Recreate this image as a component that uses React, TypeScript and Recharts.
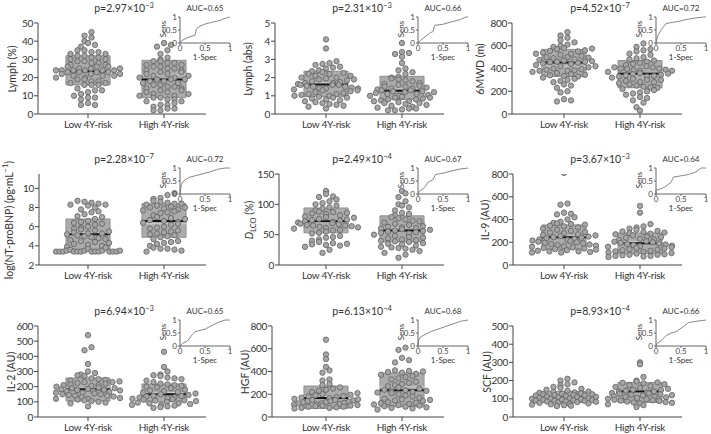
import React from 'react';
import { ComposedChart, LineChart, Line, XAxis, YAxis, Scatter, ReferenceArea, ReferenceLine } from 'recharts';

const FONT = 'Lato, "Noto Sans", sans-serif';

// ---------------- DATA ----------------
const groupLabels = ['Low 4Y-risk', 'High 4Y-risk'];

const lymphPctLow = [45, 43, 42, 40, 39, 38, 37, 35, 35, 34, 34, 33, 33, 32, 32, 31, 31, 30, 30, 29, 29, 28, 28, 27, 27, 26, 26, 26, 25, 25, 25, 24, 24, 24, 24, 24, 24, 23, 23, 23, 23, 22, 22, 22, 21, 21, 21, 20, 20, 19, 19, 18, 18, 17, 17, 16, 16, 16, 14, 13, 13, 12, 11, 10, 9, 9, 8, 6, 5, 5];
const lymphPctHigh = [39, 38, 37, 35, 33, 31, 30, 29, 29, 28, 28, 27, 27, 26, 26, 25, 25, 24, 24, 23, 23, 22, 22, 21, 21, 20, 20, 19, 19, 19, 18, 18, 17, 17, 16, 16, 15, 15, 14, 14, 13, 13, 12, 12, 11, 11, 10, 10, 9, 9, 8, 8, 7, 7, 6, 5, 5, 4, 3, 3, 2, 2];

const lymphAbsLow = [4.1, 3.6, 2.9, 2.8, 2.75, 2.7, 2.6, 2.55, 2.5, 2.4, 2.35, 2.3, 2.25, 2.2, 2.2, 2.1, 2.1, 2.0, 2.0, 1.95, 1.9, 1.9, 1.85, 1.8, 1.75, 1.7, 1.7, 1.65, 1.6, 1.6, 1.6, 1.55, 1.5, 1.5, 1.45, 1.4, 1.4, 1.4, 1.35, 1.3, 1.3, 1.25, 1.2, 1.15, 1.1, 1.1, 1.05, 1.0, 1.0, 0.95, 0.9, 0.9, 0.85, 0.8, 0.75, 0.7, 0.65, 0.6, 0.55, 0.5, 0.45, 0.4, 0.3];
const lymphAbsHigh = [3.9, 3.4, 3.35, 3.3, 3.15, 2.8, 2.5, 2.4, 2.3, 2.2, 2.05, 2.0, 1.95, 1.9, 1.85, 1.8, 1.7, 1.65, 1.6, 1.55, 1.5, 1.5, 1.45, 1.4, 1.4, 1.35, 1.3, 1.3, 1.25, 1.25, 1.2, 1.2, 1.15, 1.1, 1.1, 1.05, 1.0, 1.0, 0.95, 0.9, 0.9, 0.85, 0.8, 0.8, 0.75, 0.7, 0.7, 0.65, 0.6, 0.6, 0.55, 0.5, 0.45, 0.4, 0.35, 0.3, 0.3, 0.25, 0.2, 0.2];

const walkLow = [720, 690, 670, 650, 630, 610, 600, 590, 580, 575, 570, 560, 555, 550, 540, 530, 530, 520, 510, 500, 500, 495, 490, 480, 475, 470, 465, 460, 460, 455, 450, 445, 440, 430, 420, 420, 410, 400, 395, 390, 385, 380, 380, 370, 360, 350, 345, 340, 335, 330, 320, 310, 300, 290, 280, 260, 250, 230, 200, 190, 130, 120, 110];
const walkHigh = [620, 590, 570, 560, 550, 530, 520, 500, 490, 480, 470, 460, 450, 440, 430, 420, 410, 410, 400, 400, 395, 390, 385, 380, 380, 370, 360, 355, 350, 345, 340, 335, 330, 330, 320, 310, 300, 300, 290, 280, 280, 270, 260, 250, 240, 235, 230, 220, 210, 200, 190, 180, 170, 150, 140, 120, 100, 60, 30];

const bnpLow = [8.7, 8.6, 8.5, 8.4, 8.3, 8.3, 8.2, 8.0, 7.8, 7.6, 7.5, 7.3, 7.1, 7.0, 6.8, 6.6, 6.5, 6.4, 6.3, 6.2, 6.0, 5.9, 5.8, 5.7, 5.6, 5.5, 5.4, 5.3, 5.3, 5.2, 5.1, 5.0, 4.9, 4.8, 4.7, 4.6, 4.5, 4.4, 4.3, 4.2, 4.1, 4.0, 3.9, 3.8, 3.7, 3.6, 3.5, 3.5, 3.5, 3.5, 3.4, 3.4, 3.4, 3.4, 3.4, 3.4, 3.4, 3.4, 3.4, 3.4, 3.4, 3.4];
const bnpHigh = [9.5, 9.3, 9.0, 8.9, 8.7, 8.6, 8.5, 8.4, 8.4, 8.3, 8.2, 8.1, 8.0, 8.0, 7.9, 7.8, 7.7, 7.6, 7.5, 7.4, 7.2, 7.0, 6.9, 6.8, 6.7, 6.6, 6.5, 6.4, 6.3, 6.2, 6.0, 5.9, 5.8, 5.6, 5.5, 5.4, 5.3, 5.2, 5.1, 5.0, 4.9, 4.7, 4.5, 4.4, 4.3, 4.2, 4.0, 3.8, 3.7, 3.7, 3.6, 3.5, 3.4];

const dlcoLow = [122, 117, 113, 112, 108, 105, 102, 100, 98, 95, 93, 90, 88, 87, 86, 85, 84, 82, 80, 79, 78, 76, 75, 74, 73, 72, 71, 70, 69, 68, 67, 66, 65, 65, 64, 63, 62, 61, 60, 58, 57, 55, 53, 52, 48, 46, 45, 42, 40, 38, 36, 35, 34, 33, 32, 30, 25, 20];
const dlcoHigh = [122, 118, 112, 105, 100, 98, 95, 90, 86, 84, 82, 79, 77, 75, 73, 72, 70, 68, 66, 64, 63, 62, 61, 60, 59, 58, 57, 56, 55, 54, 53, 52, 50, 48, 46, 45, 44, 42, 41, 40, 39, 38, 36, 35, 34, 32, 30, 29, 28, 27, 25, 23, 20, 17, 12];

const il9Low = [810, 540, 530, 460, 450, 445, 420, 400, 380, 370, 365, 360, 355, 345, 340, 330, 320, 310, 300, 290, 285, 280, 270, 265, 260, 255, 250, 245, 240, 235, 230, 225, 220, 215, 210, 205, 200, 195, 190, 185, 180, 175, 170, 165, 160, 155, 150, 145, 140, 135, 130, 125, 120, 120, 115, 110, 110];
const il9High = [520, 460, 360, 340, 330, 320, 310, 300, 295, 290, 285, 280, 275, 270, 260, 250, 245, 240, 230, 225, 220, 210, 205, 200, 195, 190, 185, 180, 175, 170, 165, 160, 155, 150, 145, 140, 135, 130, 125, 120, 115, 110, 105, 100, 95, 90, 90, 85, 80, 80, 75, 70];

const il2Low = [540, 460, 440, 350, 300, 290, 280, 275, 270, 255, 250, 245, 240, 235, 230, 230, 225, 220, 215, 210, 210, 205, 200, 195, 190, 190, 185, 182, 180, 178, 175, 170, 170, 165, 160, 160, 155, 150, 150, 145, 140, 140, 135, 130, 125, 120, 120, 115, 110, 105, 100, 95, 90, 70];
const il2High = [430, 330, 300, 280, 275, 270, 260, 255, 250, 240, 230, 220, 215, 210, 205, 200, 195, 190, 180, 175, 170, 165, 160, 155, 150, 145, 140, 138, 135, 130, 128, 125, 120, 118, 115, 110, 108, 105, 100, 95, 90, 90, 85, 80, 80, 75, 70, 65, 60];

const hgfLow = [680, 550, 510, 440, 410, 390, 330, 320, 290, 280, 260, 250, 240, 230, 220, 210, 200, 195, 190, 185, 180, 175, 170, 165, 160, 155, 150, 150, 145, 140, 140, 135, 130, 130, 125, 120, 120, 115, 110, 110, 105, 100, 100, 95, 90, 90, 85, 80, 80, 75];
const hgfHigh = [610, 590, 520, 500, 480, 410, 405, 400, 395, 390, 380, 370, 360, 350, 340, 330, 310, 300, 290, 280, 270, 260, 250, 240, 235, 230, 225, 220, 215, 210, 200, 190, 180, 170, 160, 155, 150, 145, 140, 130, 125, 120, 115, 110, 105, 100, 95, 90, 85, 80, 75, 65];

const scfLow = [210, 200, 190, 180, 175, 165, 160, 155, 150, 145, 140, 138, 135, 133, 130, 128, 125, 125, 122, 120, 118, 118, 115, 112, 110, 110, 108, 105, 103, 102, 100, 100, 98, 96, 95, 93, 92, 90, 90, 88, 86, 85, 84, 82, 80, 78, 75, 72, 70, 68, 65, 62, 60];
const scfHigh = [300, 290, 220, 200, 195, 190, 188, 185, 180, 175, 170, 165, 160, 155, 150, 148, 145, 140, 138, 135, 132, 130, 128, 125, 122, 120, 118, 115, 112, 110, 108, 105, 100, 98, 95, 92, 90, 88, 85, 82, 80, 78, 75, 70, 65, 55];

// box statistics [low, high]
const boxQ1 = [[16, 9], [0.95, 0.8], [330, 231], [3.6, 4.9], [53, 38], [138, 100], [105, 100], [75, 90], [80, 80]];
const boxMedian = [[23.5, 19], [1.62, 1.28], [452, 354], [5.2, 6.6], [72, 57], [243, 192], [183, 150], [167, 235], [108, 140]];
const boxQ3 = [[32, 29.5], [2.35, 2.07], [568, 470], [6.8, 8.4], [94, 81], [352, 281], [257, 218], [272, 387], [140, 190]];
const boxMean = [[25, 21.5], [1.7, 1.42], [420, 340], [5.4, 6.3], [70, 62], [255, 205], [190, 160], [180, 265], [112, 135]];

const yLabelTexts = ['Lymph (%)', 'Lymph (abs)', '6MWD (m)', 'log(NT-proBNP) (pg·mL', 'D', 'IL-9 (AU)', 'IL-2 (AU)', 'HGF (AU)', 'SCF (AU)'];
const pMantissas = ['2.97', '2.31', '4.52', '2.28', '2.49', '3.67', '6.94', '6.13', '8.93'];
const pExponents = ['−3', '−3', '−7', '−7', '−4', '−3', '−3', '−4', '−4'];
const aucValues = ['0.65', '0.66', '0.72', '0.72', '0.67', '0.64', '0.65', '0.68', '0.66'];

const lymphPctTicks = [0, 10, 20, 30, 40, 50];
const lymphAbsTicks = [0, 1, 2, 3, 4, 5];
const walkTicks = [0, 200, 400, 600, 800];
const bnpTicks = [2, 4, 6, 8, 10];
const dlcoTicks = [0, 50, 100, 150];
const il9Ticks = [0, 200, 400, 600, 800];
const il2Ticks = [0, 100, 200, 300, 400, 500, 600];
const hgfTicks = [0, 200, 400, 600, 800];
const scfTicks = [0, 100, 200, 300, 400, 500];
const rocTicks = [0, 0.5, 1];

// ROC curves: [1-specificity, sensitivity]
const rocLymphPct = [[0, 0], [0.03, 0.08], [0.1, 0.16], [0.2, 0.24], [0.3, 0.3], [0.33, 0.55], [0.4, 0.65], [0.5, 0.73], [0.65, 0.8], [0.8, 0.87], [0.9, 0.95], [1, 1]];
const rocLymphAbs = [[0, 0], [0.05, 0.1], [0.15, 0.25], [0.25, 0.4], [0.3, 0.44], [0.33, 0.68], [0.5, 0.72], [0.65, 0.8], [0.85, 0.9], [0.95, 1], [1, 1]];
const rocWalk = [[0, 0], [0.03, 0.25], [0.1, 0.5], [0.2, 0.75], [0.35, 0.8], [0.5, 0.85], [0.6, 0.9], [0.75, 0.95], [0.95, 1], [1, 1]];
const rocBnp = [[0, 0], [0.03, 0.4], [0.1, 0.55], [0.2, 0.65], [0.4, 0.75], [0.6, 0.85], [0.75, 0.95], [0.9, 1], [1, 1]];
const rocDlco = [[0, 0], [0.03, 0.1], [0.1, 0.2], [0.15, 0.3], [0.2, 0.45], [0.3, 0.55], [0.35, 0.75], [0.5, 0.8], [0.6, 0.85], [0.8, 0.95], [1, 1]];
const rocIl9 = [[0, 0], [0, 0.15], [0.1, 0.2], [0.2, 0.3], [0.3, 0.45], [0.35, 0.65], [0.5, 0.7], [0.65, 0.75], [0.8, 0.85], [0.9, 1], [1, 1]];
const rocIl2 = [[0, 0], [0.05, 0.1], [0.15, 0.2], [0.25, 0.45], [0.3, 0.55], [0.5, 0.65], [0.6, 0.75], [0.75, 0.9], [0.9, 1], [1, 1]];
const rocHgf = [[0, 0], [0.01, 0.2], [0.05, 0.35], [0.15, 0.45], [0.25, 0.55], [0.4, 0.65], [0.55, 0.75], [0.7, 0.85], [0.85, 0.95], [1, 1]];
const rocScf = [[0, 0], [0.02, 0.1], [0.1, 0.2], [0.2, 0.4], [0.3, 0.5], [0.4, 0.55], [0.55, 0.75], [0.65, 0.9], [0.8, 0.95], [1, 1]];

// ---------------- LAYOUT ----------------
const COL_LEFT = [0, 238, 476];
const ROW_TOP = [0, 151, 303];
const CHART_W = 234;
const CHART_H = 150;
const PLOT_TOP = 23;
const PLOT_H = 91;
const CAT_LOW_X = 88;
const PX_PER_CAT = 76;
const PLOT_RIGHT = 206;
const Y_AXIS_W = 30;
const AXIS_REL = [38, 37, 36, 39, 41, 37, 38, 34, 37];
const YLABEL_X = [11.5, 9.5, 4, 9, 11, 9, 11, 7, 11];
const BOX_HALF = 0.29;
const DOT_R = 2.7;
const SWARM_D = 7;
const ROW_H = 6;
const SWARM_MAX = 32;

const panelDefs = [
  { low: lymphPctLow, high: lymphPctHigh, domain: [0, 50], ticks: lymphPctTicks, roc: rocLymphPct },
  { low: lymphAbsLow, high: lymphAbsHigh, domain: [0, 5], ticks: lymphAbsTicks, roc: rocLymphAbs },
  { low: walkLow, high: walkHigh, domain: [0, 800], ticks: walkTicks, roc: rocWalk },
  { low: bnpLow, high: bnpHigh, domain: [2, 11.5], ticks: bnpTicks, roc: rocBnp },
  { low: dlcoLow, high: dlcoHigh, domain: [0, 150], ticks: dlcoTicks, roc: rocDlco },
  { low: il9Low, high: il9High, domain: [0, 800], ticks: il9Ticks, roc: rocIl9 },
  { low: il2Low, high: il2High, domain: [0, 600], ticks: il2Ticks, roc: rocIl2 },
  { low: hgfLow, high: hgfHigh, domain: [0, 800], ticks: hgfTicks, roc: rocHgf },
  { low: scfLow, high: scfHigh, domain: [0, 500], ticks: scfTicks, roc: rocScf },
];

// deterministic row-binned dot layout (x offsets derived from the values)
function swarm(values: number[], center: number, domain: number[]) {
  const pxPerY = PLOT_H / (domain[1] - domain[0]);
  const bins = new Map<number, number[]>();
  values.forEach((v) => {
    const b = Math.floor(((v - domain[0]) * pxPerY) / ROW_H);
    if (!bins.has(b)) bins.set(b, []);
    bins.get(b)!.push(v);
  });
  const out: { x: number; y: number }[] = [];
  bins.forEach((vals) => {
    vals.sort((a, c) => a - c);
    const n = vals.length;
    const sp = n > 1 ? Math.min(SWARM_D, (2 * SWARM_MAX) / (n - 1)) : 0;
    const slots = Array.from({ length: n }, (_, j) => (j - (n - 1) / 2) * sp);
    const order = Array.from({ length: n }, (_, j) => j).sort((a, c) => ((a * 5) % n) - ((c * 5) % n) || a - c);
    order.forEach((vi, j) => out.push({ x: center + slots[j] / PX_PER_CAT, y: vals[vi] }));
  });
  return out;
}

const Dot = (props: any) => {
  const { cx, cy } = props;
  if (cx == null || cy == null) return null;
  return <circle cx={cx} cy={cy} r={DOT_R} fill="#a6a6a6" stroke="#606060" strokeWidth={0.8} />;
};

function YLabel({ idx }: { idx: number }) {
  const t = yLabelTexts[idx];
  if (idx === 3) {
    return (<span>{t}<sup style={{ fontSize: 7.5, verticalAlign: 'super', lineHeight: 0 }}>−1</sup>)</span>);
  }
  if (idx === 4) {
    return (<span><i>{t}</i><sub style={{ fontSize: 7.5, lineHeight: 0 }}>LCO</sub> (%)</span>);
  }
  return <span>{t}</span>;
}

function Panel({ idx }: { idx: number }) {
  const p = panelDefs[idx];
  const col = idx % 3;
  const row = Math.floor(idx / 3);
  const left = COL_LEFT[col];
  const top = ROW_TOP[row];
  const axisRel = AXIS_REL[idx];
  const xMin = 1 - (CAT_LOW_X - axisRel) / PX_PER_CAT;
  const xMax = 1 + (PLOT_RIGHT - CAT_LOW_X) / PX_PER_CAT;
  const lowPts = swarm(p.low, 1, p.domain);
  const highPts = swarm(p.high, 2, p.domain);
  const rocData = p.roc.map(([fpr, tpr]) => ({ fpr, tpr }));
  const tickStyle = { fontSize: 10, fill: '#333', fontFamily: FONT, letterSpacing: -0.3 };
  const insetTick = { fontSize: 8, fill: '#444', fontFamily: FONT };
  return (
    <>
      <div style={{ position: 'absolute', left, top }}>
        <ComposedChart
          width={CHART_W}
          height={CHART_H}
          margin={{ top: PLOT_TOP, right: CHART_W - PLOT_RIGHT, bottom: 6, left: axisRel - Y_AXIS_W }}
        >
          <XAxis
            type="number"
            dataKey="x"
            domain={[xMin, xMax]}
            allowDataOverflow
            ticks={[1, 2]}
            tickFormatter={(v: number) => groupLabels[v - 1]}
            height={CHART_H - PLOT_TOP - PLOT_H - 6}
            stroke="#444"
            tickSize={4}
            tickMargin={3}
            tick={tickStyle}
            interval={0}
          />
          <YAxis
            type="number"
            dataKey="y"
            domain={p.domain}
            allowDataOverflow
            ticks={p.ticks}
            width={Y_AXIS_W}
            stroke="#444"
            tickSize={4}
            tickMargin={1}
            tick={tickStyle}
            interval={0}
          />
          {[0, 1].map((g) => (
            <ReferenceArea
              key={'box' + g}
              x1={g + 1 - BOX_HALF}
              x2={g + 1 + BOX_HALF}
              y1={boxQ1[idx][g]}
              y2={boxQ3[idx][g]}
              fill="#acacac"
              fillOpacity={1}
              stroke="#8e8e8e"
              strokeWidth={1}
            />
          ))}
          {[0, 1].map((g) => (
            <ReferenceLine
              key={'mean' + g}
              segment={[{ x: g + 1 - BOX_HALF, y: boxMean[idx][g] }, { x: g + 1 + BOX_HALF, y: boxMean[idx][g] }]}
              stroke="#d2d2d2"
              strokeWidth={1}
            />
          ))}
          {[0, 1].map((g) => (
            <ReferenceLine
              key={'med' + g}
              segment={[{ x: g + 1 - BOX_HALF, y: boxMedian[idx][g] }, { x: g + 1 + BOX_HALF, y: boxMedian[idx][g] }]}
              stroke="#111"
              strokeWidth={2}
            />
          ))}
          <Scatter data={lowPts} shape={Dot} isAnimationActive={false} />
          <Scatter data={highPts} shape={Dot} isAnimationActive={false} />
        </ComposedChart>
      </div>
      <div style={{ position: 'absolute', left: left + 158, top: top + 13 }}>
        <LineChart width={80} height={45} data={rocData} margin={{ top: 4, right: 8, bottom: 3, left: 0 }}>
          <XAxis type="number" dataKey="fpr" domain={[0, 1]} ticks={rocTicks} height={12} stroke="#666" tickSize={2} tickMargin={0} tick={insetTick} interval={0} />
          <YAxis type="number" domain={[0, 1]} ticks={rocTicks} width={22} stroke="#666" tickSize={2} tickMargin={1} tick={insetTick} interval={0} />
          <Line type="linear" dataKey="tpr" stroke="#888" strokeWidth={1} dot={false} isAnimationActive={false} />
        </LineChart>
      </div>
      <div style={{ position: 'absolute', left: left + 124, top: top + 8, transform: 'translate(-50%, -50%)', fontSize: 10.5, whiteSpace: 'nowrap', color: '#333' }}>
        p={pMantissas[idx]}×10<sup style={{ fontSize: 7.5, lineHeight: 0 }}>{pExponents[idx]}</sup>
      </div>
      <div style={{ position: 'absolute', left: left + 205, top: top + 8, transform: 'translate(-50%, -50%)', fontSize: 8, whiteSpace: 'nowrap', color: '#333' }}>
        AUC={aucValues[idx]}
      </div>
      <div style={{ position: 'absolute', left: left + 163, top: top + 29, transform: 'translate(-50%, -50%) rotate(-90deg)', fontSize: 8, whiteSpace: 'nowrap', color: '#333' }}>
        Sens
      </div>
      <div style={{ position: 'absolute', left: left + 205, top: top + 57, transform: 'translate(-50%, -50%)', fontSize: 8, whiteSpace: 'nowrap', color: '#333' }}>
        1-Spec
      </div>
      <div style={{ position: 'absolute', left: left + YLABEL_X[idx], top: top + PLOT_TOP + PLOT_H / 2, transform: 'translate(-50%, -50%) rotate(-90deg)', fontSize: 10.5, whiteSpace: 'nowrap', color: '#333', lineHeight: 1 }}>
        <YLabel idx={idx} />
      </div>
    </>
  );
}

export default function App() {
  return (
    <div style={{ position: 'absolute', left: 0, top: 0, width: 711, height: 434, background: '#fff', fontFamily: FONT, overflow: 'hidden' }}>
      {panelDefs.map((_, i) => (
        <Panel key={i} idx={i} />
      ))}
    </div>
  );
}
